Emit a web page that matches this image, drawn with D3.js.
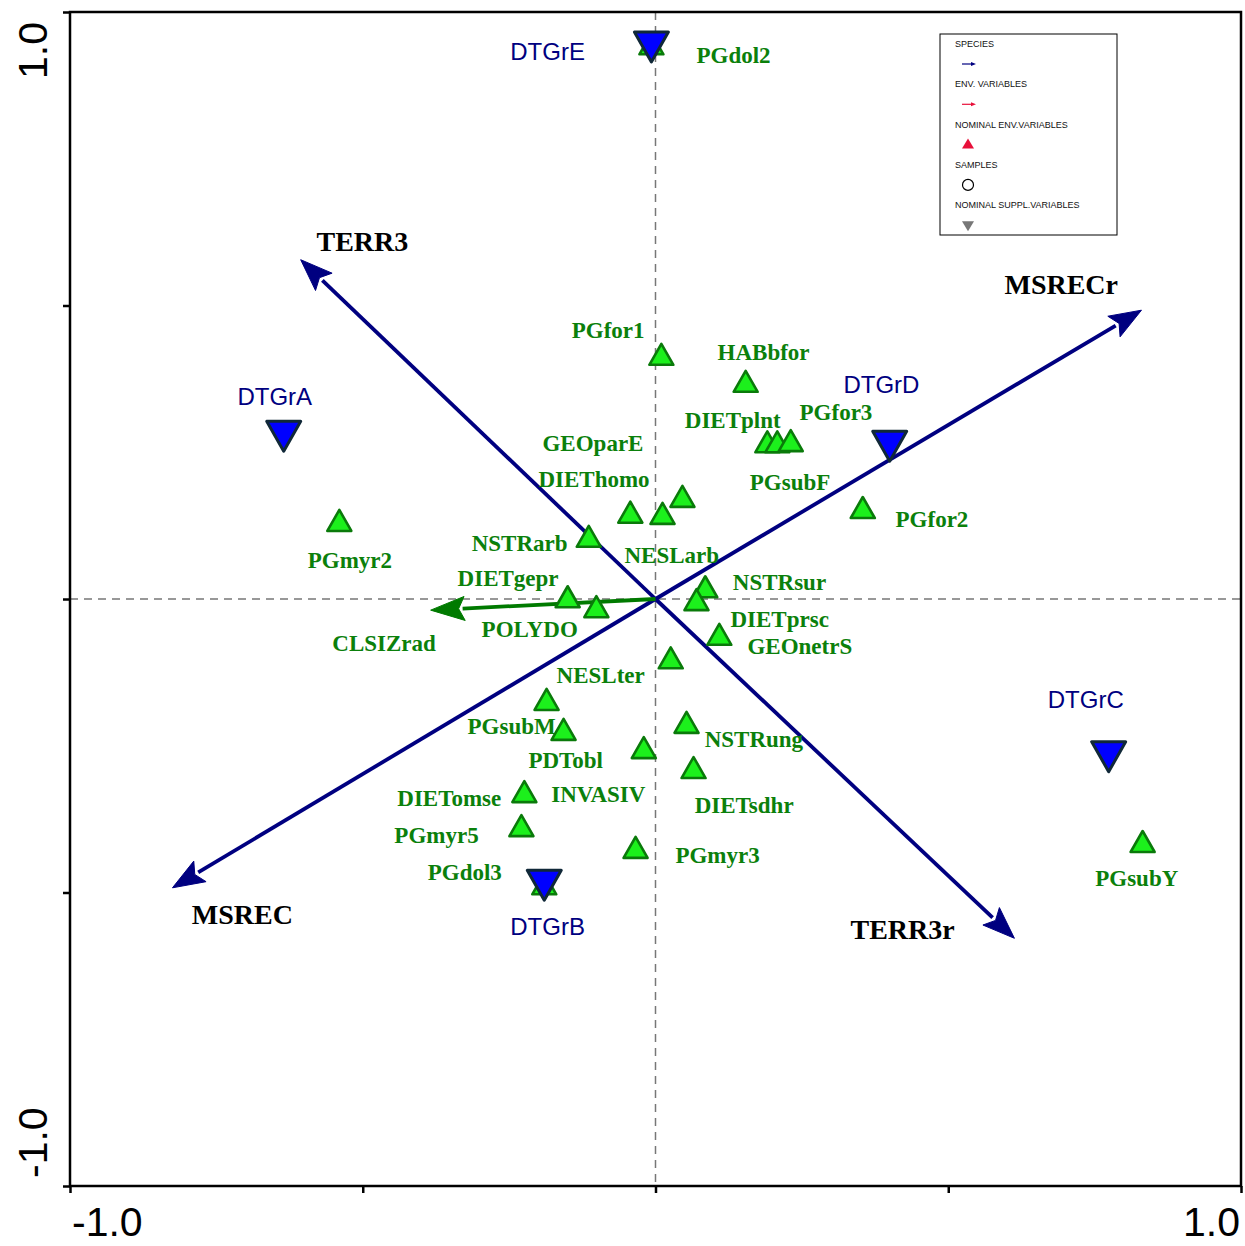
<!DOCTYPE html>
<html>
<head>
<meta charset="UTF-8">
<title>Ordination biplot</title>
<script src="https://d3js.org/d3.v7.min.js"></script>
<style>
  body { margin: 0; background: #fff; }
  svg { display: block; }
  .big { font-family: "Liberation Serif", "Times New Roman", serif; font-weight: bold; font-size: 28px; fill: #000; }
  .nom { font-family: "Liberation Serif", "Times New Roman", serif; font-weight: bold; font-size: 23px; fill: #0b800b; }
  .sup { font-family: "Liberation Sans", Arial, sans-serif; font-size: 24px; fill: #000080; }
  .tick-lab { font-family: "Liberation Sans", Arial, sans-serif; font-size: 41px; fill: #000; }
  .leg { font-family: "Liberation Sans", Arial, sans-serif; font-size: 9px; fill: #111; }
</style>
</head>
<body>
<div id="chart"></div>
<script>
// species arrows
const speciesNames = ["TERR3", "TERR3r", "MSRECr", "MSREC"];
const speciesX = [-0.606, 0.613, 0.830, -0.825];
const speciesY = [0.578, -0.578, 0.492, -0.492];
const speciesLabX = [-0.579, 0.333, 0.596, -0.792];
const speciesLabY = [0.593, -0.579, 0.520, -0.554];

// environmental variable arrow
const envNames = ["CLSIZrad"];
const envX = [-0.384];
const envY = [-0.019];
const envLabX = [-0.552];
const envLabY = [-0.089];

// nominal env variables (green triangles)
const nomNames = ["PGdol2", "PGfor1", "HABbfor", "DIETplnt", "PGsubF", "PGfor3", "GEOparE", "DIEThomo", "NESLarb",
  "PGfor2", "NSTRarb", "PGmyr2", "DIETgepr", "POLYDO", "NSTRsur", "DIETprsc", "GEOnetrS", "NESLter",
  "PGsubM", "PDTobl", "INVASIV", "NSTRung", "DIETsdhr", "DIETomse", "PGmyr5", "PGmyr3", "PGdol3", "PGsubY"];
const nomX = [-0.007, 0.010, 0.154, 0.191, 0.208, 0.231, -0.043, 0.012, 0.046,
  0.354, -0.114, -0.540, -0.150, -0.101, 0.085, 0.070, 0.109, 0.026,
  -0.186, -0.157, -0.020, 0.053, 0.065, -0.224, -0.229, -0.034, -0.190, 0.832];
const nomY = [0.945, 0.416, 0.370, 0.267, 0.267, 0.269, 0.147, 0.145, 0.174,
  0.155, 0.106, 0.133, 0.003, -0.014, 0.020, -0.002, -0.061, -0.101,
  -0.172, -0.223, -0.254, -0.211, -0.288, -0.329, -0.387, -0.424, -0.486, -0.414];
const nomLabX = [0.070, -0.143, 0.106, 0.050, 0.161, 0.246, -0.193, -0.200, -0.053,
  0.410, -0.314, -0.594, -0.338, -0.297, 0.132, 0.128, 0.157, -0.169,
  -0.321, -0.217, -0.178, 0.084, 0.067, -0.441, -0.446, 0.034, -0.389, 0.751];
const nomLabY = [0.913, 0.445, 0.407, 0.291, 0.186, 0.305, 0.252, 0.191, 0.061,
  0.123, 0.082, 0.053, 0.022, -0.065, 0.015, -0.048, -0.094, -0.143,
  -0.230, -0.288, -0.346, -0.252, -0.365, -0.353, -0.416, -0.450, -0.479, -0.489];

// nominal supplementary variables (blue triangles)
const supNames = ["DTGrE", "DTGrA", "DTGrD", "DTGrC", "DTGrB"];
const supX = [-0.007, -0.635, 0.400, 0.774, -0.190];
const supY = [0.942, 0.279, 0.262, -0.267, -0.486];
const supLabX = [-0.248, -0.714, 0.321, 0.670, -0.248];
const supLabY = [0.918, 0.330, 0.351, -0.186, -0.572];

const tickValues = [-1, -0.5, 0, 0.5, 1];
const tickLabels = ["-1.0", "1.0"];
const legendItems = ["SPECIES", "ENV. VARIABLES", "NOMINAL ENV.VARIABLES", "SAMPLES", "NOMINAL SUPPL.VARIABLES"];

const W = 1245, H = 1246;
const x = d3.scaleLinear().domain([-1, 1]).range([70, 1241]);
const y = d3.scaleLinear().domain([-1, 1]).range([1186, 12]);

const svg = d3.select("#chart").append("svg").attr("width", W).attr("height", H);

// dashed zero lines
svg.append("line").attr("x1", x(0)).attr("x2", x(0)).attr("y1", y(1)).attr("y2", y(-1))
  .attr("stroke", "#777").attr("stroke-width", 1.5).attr("stroke-dasharray", "8,6");
svg.append("line").attr("x1", x(-1)).attr("x2", x(1)).attr("y1", y(0)).attr("y2", y(0))
  .attr("stroke", "#777").attr("stroke-width", 1.5).attr("stroke-dasharray", "8,6");

// frame + axes
svg.append("rect").attr("x", x(-1)).attr("y", y(1)).attr("width", x(1) - x(-1)).attr("height", y(-1) - y(1))
  .attr("fill", "none").attr("stroke", "#000").attr("stroke-width", 2.5);
const gx = svg.append("g").attr("transform", `translate(0,${y(-1)})`)
  .call(d3.axisBottom(x).tickValues(tickValues).tickSize(7).tickFormat(""));
const gy = svg.append("g").attr("transform", `translate(${x(-1)},0)`)
  .call(d3.axisLeft(y).tickValues(tickValues).tickSize(7).tickFormat(""));
[gx, gy].forEach(g => {
  g.select(".domain").remove();
  g.selectAll(".tick line").attr("stroke", "#000").attr("stroke-width", 2.5);
});

// tick labels at the ends only
svg.append("text").attr("class", "tick-lab").attr("x", x(-1) + 2).attr("y", 1236).text(tickLabels[0]);
svg.append("text").attr("class", "tick-lab").attr("x", x(1) - 1).attr("y", 1236).attr("text-anchor", "end").text(tickLabels[1]);
svg.append("text").attr("class", "tick-lab").attr("transform", `translate(47,${y(1) + 10}) rotate(-90)`)
  .attr("text-anchor", "end").text(tickLabels[1]);
svg.append("text").attr("class", "tick-lab").attr("transform", `translate(47,${y(-1) - 8}) rotate(-90)`)
  .attr("text-anchor", "start").text(tickLabels[0]);

// arrows
function arrow(x2, y2, color, headLen, headW, lw) {
  const x0 = x(0), y0 = y(0), X = x(x2), Y = y(y2);
  const len = Math.hypot(X - x0, Y - y0), ux = (X - x0) / len, uy = (Y - y0) / len;
  const bx = X - ux * headLen, by = Y - uy * headLen;
  svg.append("line").attr("x1", x0).attr("y1", y0).attr("x2", bx + ux * 2).attr("y2", by + uy * 2)
    .attr("stroke", color).attr("stroke-width", lw);
  const pts = [[X, Y], [bx - uy * headW, by + ux * headW], [bx + ux * 6, by + uy * 6], [bx + uy * headW, by - ux * headW]];
  svg.append("path").attr("d", "M" + pts.map(p => p.join(",")).join("L") + "Z")
    .attr("fill", color).attr("stroke", color).attr("stroke-width", 1);
}
speciesNames.forEach((n, i) => arrow(speciesX[i], speciesY[i], "#000080", 32, 12, 3.8));
envNames.forEach((n, i) => arrow(envX[i], envY[i], "#007a00", 34, 12, 3.8));

// green triangles
const triUp = "M0,-11L12,10L-12,10Z";
svg.selectAll(".nom-pt").data(nomNames).enter().append("path")
  .attr("class", "nom-pt")
  .attr("d", triUp)
  .attr("transform", (d, i) => `translate(${x(nomX[i])},${y(nomY[i])})`)
  .attr("fill", "#1cf01c").attr("stroke", "#0a7a0a").attr("stroke-width", 2.6).attr("stroke-linejoin", "round");

// blue inverted triangles
const triDown = "M-17,-14L17,-14L0,16Z";
svg.selectAll(".sup-pt").data(supNames).enter().append("path")
  .attr("class", "sup-pt")
  .attr("d", triDown)
  .attr("transform", (d, i) => `translate(${x(supX[i])},${y(supY[i])})`)
  .attr("fill", "#0000ff").attr("stroke", "#102838").attr("stroke-width", 3).attr("stroke-linejoin", "round");

// labels
svg.selectAll(".nom-lab").data(nomNames).enter().append("text")
  .attr("class", "nom").attr("x", (d, i) => x(nomLabX[i])).attr("y", (d, i) => y(nomLabY[i])).text(d => d);
svg.selectAll(".env-lab").data(envNames).enter().append("text")
  .attr("class", "nom").attr("x", (d, i) => x(envLabX[i])).attr("y", (d, i) => y(envLabY[i])).text(d => d);
svg.selectAll(".sp-lab").data(speciesNames).enter().append("text")
  .attr("class", "big").attr("x", (d, i) => x(speciesLabX[i])).attr("y", (d, i) => y(speciesLabY[i])).text(d => d);
svg.selectAll(".sup-lab").data(supNames).enter().append("text")
  .attr("class", "sup").attr("x", (d, i) => x(supLabX[i])).attr("y", (d, i) => y(supLabY[i])).text(d => d);

// legend
const lg = svg.append("g").attr("transform", "translate(940,34)");
lg.append("rect").attr("width", 177).attr("height", 201).attr("fill", "#fff").attr("stroke", "#000").attr("stroke-width", 1);
legendItems.forEach((t, i) => {
  lg.append("text").attr("class", "leg").attr("x", 15).attr("y", 13 + i * 40.3).text(t);
});
const sy = i => 30 + i * 40.3;
lg.append("line").attr("x1", 22).attr("x2", 33).attr("y1", sy(0)).attr("y2", sy(0)).attr("stroke", "#000080").attr("stroke-width", 1.2);
lg.append("path").attr("d", `M36,${sy(0)}L31,${sy(0) - 2}L31,${sy(0) + 2}Z`).attr("fill", "#000080");
lg.append("line").attr("x1", 22).attr("x2", 33).attr("y1", sy(1)).attr("y2", sy(1)).attr("stroke", "#e8103a").attr("stroke-width", 1.2);
lg.append("path").attr("d", `M36,${sy(1)}L31,${sy(1) - 2}L31,${sy(1) + 2}Z`).attr("fill", "#e8103a");
lg.append("path").attr("d", `M28,${sy(2) - 6}L34,${sy(2) + 4}L22,${sy(2) + 4}Z`).attr("fill", "#e8103a");
lg.append("circle").attr("cx", 28).attr("cy", sy(3)).attr("r", 5.5).attr("fill", "none").attr("stroke", "#000").attr("stroke-width", 1.2);
lg.append("path").attr("d", `M22,${sy(4) - 4}L34,${sy(4) - 4}L28,${sy(4) + 6}Z`).attr("fill", "#777");
</script>
</body>
</html>
